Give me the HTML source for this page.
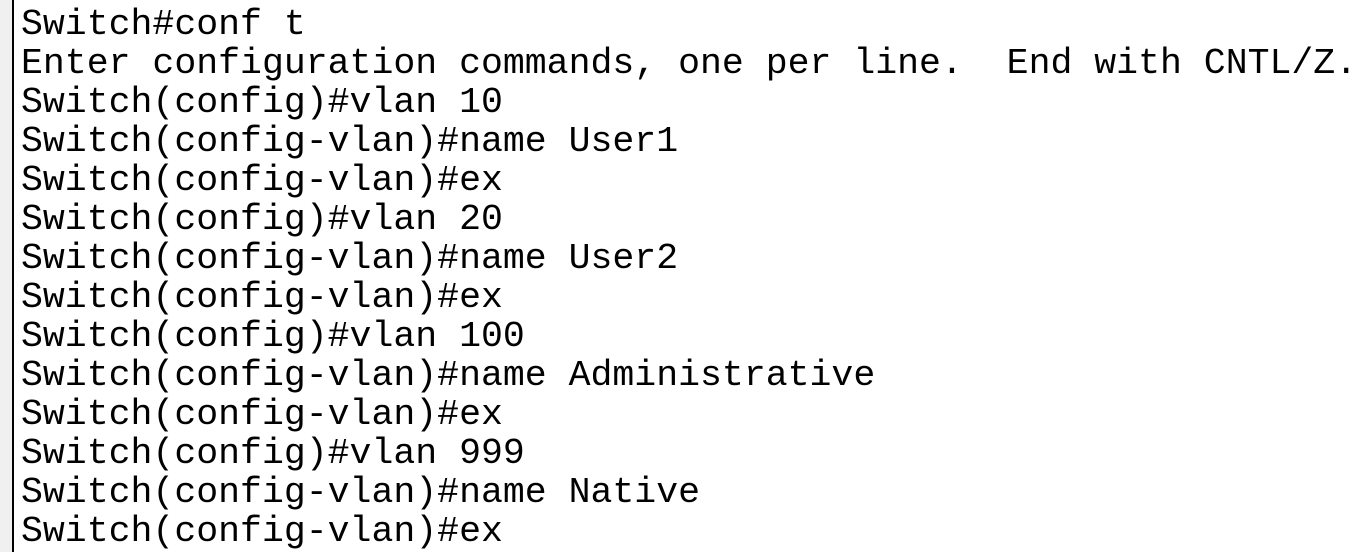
<!DOCTYPE html>
<html><head><style>
html,body{margin:0;padding:0;width:1368px;height:552px;overflow:hidden;background:#fff}
.g{position:absolute;left:0;top:0;width:12px;height:552px;background:#f0f0f0}
.b{position:absolute;left:12px;top:0;width:2px;height:552px;background:#000}
pre{position:absolute;left:21px;top:5px;margin:0;font-family:"Liberation Mono","Courier New",monospace;font-size:36.5px;line-height:39px;color:#000}
</style></head><body>
<div class="g"></div><div class="b"></div>
<pre>Switch#conf t
Enter configuration commands, one per line.  End with CNTL/Z.
Switch(config)#vlan 10
Switch(config-vlan)#name User1
Switch(config-vlan)#ex
Switch(config)#vlan 20
Switch(config-vlan)#name User2
Switch(config-vlan)#ex
Switch(config)#vlan 100
Switch(config-vlan)#name Administrative
Switch(config-vlan)#ex
Switch(config)#vlan 999
Switch(config-vlan)#name Native
Switch(config-vlan)#ex</pre>
</body></html>
